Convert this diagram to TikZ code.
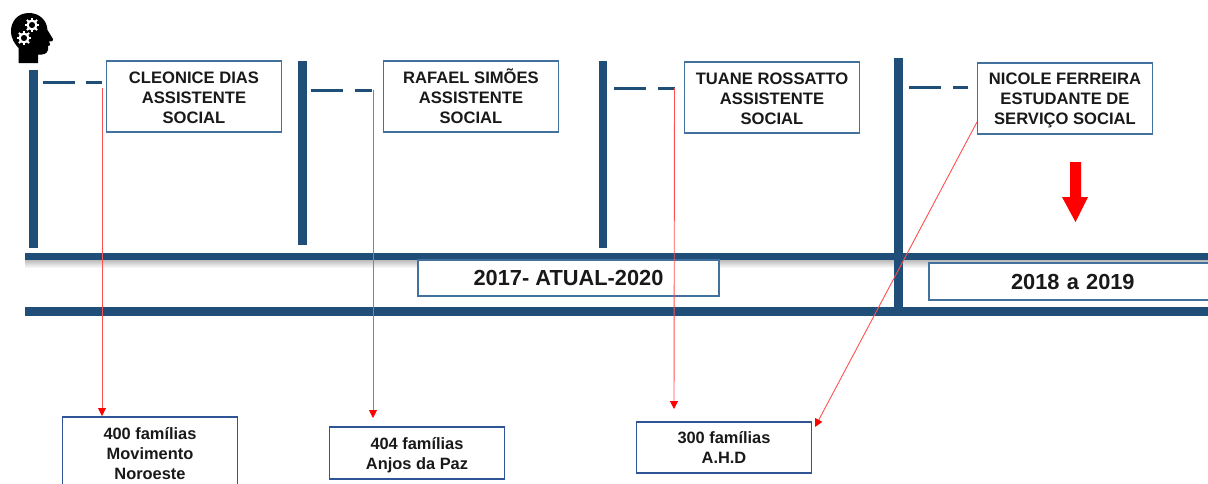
\documentclass[tikz,border=0pt]{standalone}
\usepackage{fontspec}
\setmainfont{Liberation Sans}
\usetikzlibrary{arrows.meta}
\definecolor{navy}{HTML}{1F4E79}
\definecolor{boxline}{HTML}{41719C}
\definecolor{boxlow}{HTML}{2F5597}
\definecolor{linkred}{HTML}{FF5050}
\newcommand{\lowertop}[1]{\rule{0pt}{#1pt}}
\tikzset{
 x=1pt,y=-1pt,
 bar/.style={fill=navy,draw=none},
 dashline/.style={draw=navy,line width=3pt},
 namebox/.style={draw=boxline,line width=1.1pt,fill=white,align=center,font=\fontsize{16.6}{20}\selectfont\bfseries,text=black!90,minimum width=175pt,inner sep=0pt},
 lowbox/.style={draw=boxlow,line width=1.1pt,fill=white,align=center,font=\fontsize{16.4}{20}\selectfont\bfseries,text=black!90,minimum width=175pt,inner sep=0pt},
 yearbox/.style={draw=boxline,line width=1.1pt,fill=white,font=\fontsize{21.8}{24}\selectfont\bfseries,text=black!90,inner sep=0pt},
 link/.style={draw=linkred,line width=0.9pt,-{Triangle[length=8pt,width=8pt,color=red]}},
}
\begin{document}
\begin{tikzpicture}
\useasboundingbox (0,0) rectangle (1208,483);
\fill[white] (0,0) rectangle (1208,483);
% shadow below the band
\fill[top color=black!30,bottom color=white] (25,259) rectangle (1208,268);
% timeline bars
\fill[bar] (25,253) rectangle (1208,260);
\fill[bar] (25,307) rectangle (1208,316);
\fill[bar] (29,70) rectangle (37.5,248);
\fill[bar] (298,61) rectangle (307,245);
\fill[bar] (598.5,61) rectangle (607,248);
\fill[bar] (894,58) rectangle (903,310);
% dashes
\draw[dashline] (43,82) -- (75,82) (86,82) -- (102,82);
\draw[dashline] (311,90) -- (343,90) (355,90) -- (372,90);
\draw[dashline] (614,88) -- (646,88) (658,88) -- (675,88);
\draw[dashline] (909,87) -- (941,87) (953,87) -- (968,87);
% boxes
\node[namebox,minimum height=71pt] (cleo) at (194,96.5) {\lowertop{20}CLEONICE DIAS\\\strut ASSISTENTE\\\strut SOCIAL};
\node[namebox,minimum height=71pt] (rafa) at (471,96.5) {\lowertop{20}RAFAEL SIMÕES\\\strut ASSISTENTE\\\strut SOCIAL};
\node[namebox,minimum height=71pt] (tuane) at (772,97.5) {\lowertop{20}TUANE ROSSATTO\\\strut ASSISTENTE\\\strut SOCIAL};
\node[namebox,minimum height=71pt] (nicole) at (1065,98.5) {\lowertop{18}NICOLE FERREIRA\\\strut ESTUDANTE DE\\\strut SERVIÇO SOCIAL};
\node[yearbox,minimum width=301pt,minimum height=36pt] (y1) at (568.5,278) {2017- ATUAL-2020};
\node[yearbox,minimum width=300pt,minimum height=37pt,text width=288pt,align=left] (y2) at (1079,281.5) {\hspace*{76pt}2018 a 2019};
\node[lowbox,minimum height=73pt] (f400) at (150,453.5) {\lowertop{18}400 famílias\\\strut Movimento\\\strut Noroeste};
\node[lowbox,minimum height=52pt] (f404) at (417,453) {\lowertop{18}404 famílias\\\strut Anjos da Paz};
\node[lowbox,minimum height=51pt] (f300) at (724,447.5) {\lowertop{18}300 famílias\\\strut A.H.D};
% free ends
\coordinate (s1) at (102,88);
\coordinate (s2) at (373,90);
\coordinate (s3) at (674.5,88);
\coordinate (e2) at (373,418);
\coordinate (e3) at (674,409);
\coordinate (e1) at (102,416);
\coordinate (e4) at (815,427);
\coordinate (s4) at (977,122);
\draw[link] (s1) -- (e1);
\draw[link] (s2) -- (e2);
\draw[link] (s3) -- (e3);
\draw[link] (s4) -- (e4);
% big red arrow
\fill[red] (1070,162) -- (1081,162) -- (1081,197) -- (1088,197) -- (1075.5,222) -- (1062,197) -- (1070,197) -- cycle;
% head icon
\fill[black] (18.5,63) -- (38,63) -- (38,54.5) .. controls (43,55) and (47,54) .. (48,50) -- (48,46) .. controls (50,46) and (50,45) .. (50,44) -- (49,41.5) .. controls (52,41.5) and (54,41) .. (53,39) -- (47.5,30) .. controls (47,20) and (39,13) .. (29,13) .. controls (18,13) and (11,21) .. (11,31) .. controls (11,39) and (15,44) .. (18.5,48) -- cycle;
\foreach \cx/\cy/\r in {32/25/4.4,24/38/4.4}{
 \foreach \a in {0,45,...,315}{
  \draw[white,line width=2pt] (\cx,\cy) ++(\a:\r) -- ++(\a:2.8);
 }
 \draw[white,line width=2.2pt] (\cx,\cy) circle[radius=\r];
}
\end{tikzpicture}
\end{document}
